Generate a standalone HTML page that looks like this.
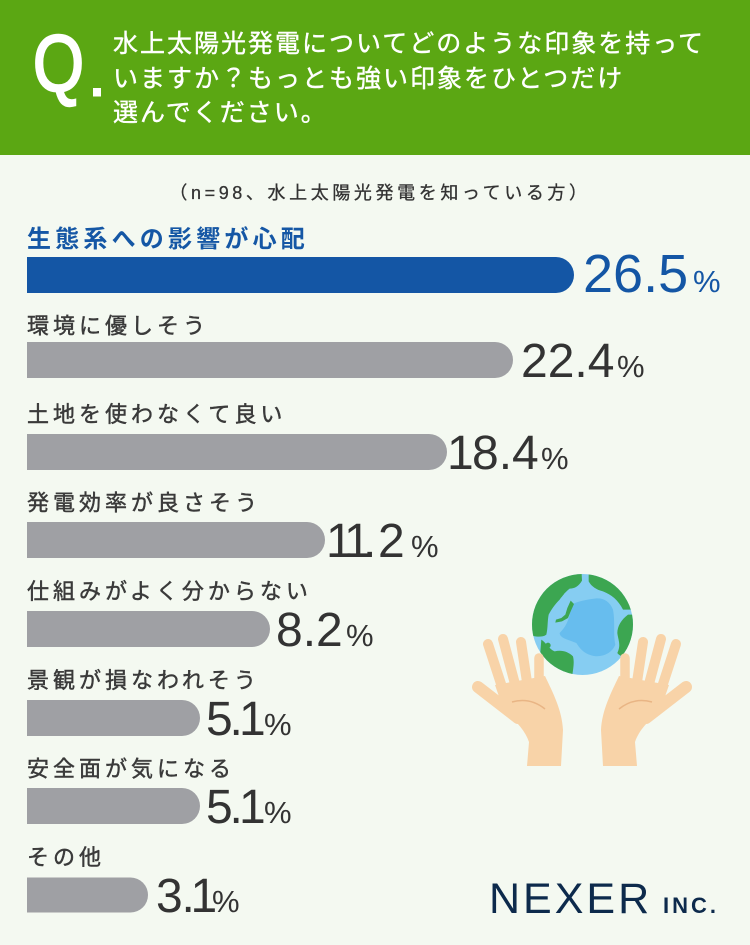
<!DOCTYPE html>
<html><head><meta charset="utf-8"><style>
html,body{margin:0;padding:0;background:#f4f9f1;}
svg{display:block;}
.jp{font-family:"Liberation Sans","Noto Sans CJK JP",sans-serif;}
.num{font-family:"Liberation Sans",sans-serif;}
</style></head><body>
<svg width="750" height="945" viewBox="0 0 750 945" xmlns="http://www.w3.org/2000/svg">
<rect x="0" y="0" width="750" height="945" fill="#f4f9f1"/>
<rect x="0" y="0" width="750" height="155" fill="#5ba713"/>
<!-- Q. -->
<text class="num" x="0" y="0" transform="translate(33,91) scale(0.82,1)" font-size="80" fill="#fff" stroke="#fff" stroke-width="2.4">Q</text>
<rect x="93" y="88" width="8" height="8.5" fill="#fff"/>
<g class="jp" font-size="25" fill="#fff" letter-spacing="2" stroke="#fff" stroke-width="0.4">
<text x="113" y="52">水上太陽光発電についてどのような印象を持って</text>
<text x="113" y="87">いますか？もっとも強い印象をひとつだけ</text>
<text x="113" y="121">選んでください。</text>
</g>
<text class="jp" x="380" y="199" font-size="18" fill="#333" stroke="#333" stroke-width="0.3" letter-spacing="3.6" text-anchor="middle">（n=98、水上太陽光発電を知っている方）</text>

<!-- labels -->
<text class="jp" x="27" y="247" font-size="24" font-weight="bold" fill="#1557a5" letter-spacing="4.2">生態系への影響が心配</text>
<g class="jp" font-size="22" fill="#3a3a3a" stroke="#3a3a3a" stroke-width="0.45" letter-spacing="4">
<text x="27" y="333.5">環境に優しそう</text>
<text x="27" y="422">土地を使わなくて良い</text>
<text x="27" y="510.5">発電効率が良さそう</text>
<text x="27" y="599">仕組みがよく分からない</text>
<text x="27" y="688">景観が損なわれそう</text>
<text x="27" y="776.5">安全面が気になる</text>
<text x="27" y="865">その他</text>
</g>

<!-- bars -->
<path d="M27,257 H556 A18,18 0 0 1 556,293 H27 Z" fill="#1456a5"/>
<g fill="#9fa0a4">
<path d="M27,342 H495 A18,18 0 0 1 495,378 H27 Z"/>
<path d="M27,434 H429 A18,18 0 0 1 429,470 H27 Z"/>
<path d="M27,522 H307 A18,18 0 0 1 307,558 H27 Z"/>
<path d="M27,611 H252 A18,18 0 0 1 252,647 H27 Z"/>
<path d="M27,700 H182 A18,18 0 0 1 182,736 H27 Z"/>
<path d="M27,788 H182 A18,18 0 0 1 182,824 H27 Z"/>
<path d="M27,877.5 H130.5 A17.5,17.5 0 0 1 130.5,912.5 H27 Z"/>
</g>

<!-- values -->
<g class="num">
<text x="583" y="292" font-size="54" fill="#1456a5">26.5</text>
<text x="693" y="292" font-size="31" fill="#1456a5">%</text>
<g fill="#333">
<text x="521" y="377" font-size="48">22.4</text>
<text x="617" y="377" font-size="31">%</text>
<text x="447 472 498.7 512" y="469" font-size="48">18.4</text>
<text x="541" y="469" font-size="31">%</text>
<text x="326 344 363 378" y="557" font-size="48">11.2</text>
<text x="411" y="557" font-size="31">%</text>
<text x="276" y="646" font-size="48">8.2</text>
<text x="346" y="646" font-size="31">%</text>
<text x="206 229.5 239" y="735" font-size="48">5.1</text>
<text x="264" y="735" font-size="31">%</text>
<text x="206 229.5 239" y="823" font-size="48">5.1</text>
<text x="264" y="823" font-size="31">%</text>
<text x="156 181.5 190.5" y="912" font-size="48">3.1</text>
<text x="212" y="912" font-size="31">%</text>
</g>
</g>

<!-- globe and hands -->
<defs>
<clipPath id="gc"><circle cx="163.5" cy="169.5" r="151.5"/></clipPath>
<g id="hand">
<g stroke="#f8d3a8" stroke-linecap="round" fill="none">
<line x1="43" y1="130" x2="28" y2="84" stroke-width="10"/>
<line x1="55" y1="124" x2="43" y2="79" stroke-width="10"/>
<line x1="67" y1="122" x2="61" y2="82" stroke-width="10"/>
<line x1="79" y1="126" x2="79" y2="98" stroke-width="9.5"/>
<line x1="58" y1="158" x2="18" y2="127" stroke-width="12"/>
</g>
<path d="M35,125 L85,116 C93,133 102,150 103,170 L101,206 L67,206 L69,182 C65,170 55,160 44,151 Z" fill="#f8d3a8"/>
<path d="M52,142 Q70,137 85,149" stroke="#e9b585" stroke-width="1.5" fill="none"/>
</g>
</defs>
<g transform="translate(460,560)">
<g transform="translate(68,8) scale(0.33333)">
<circle cx="163.5" cy="169.5" r="151.5" fill="#86cdf2"/>
<g clip-path="url(#gc)">
<path d="M130,110 C150,100 175,95 200,92 C225,88 245,100 255,125 C262,160 255,200 262,230 C250,260 215,270 190,262 C165,255 155,240 145,225 C120,215 95,210 95,195 C110,180 125,160 130,110 Z" fill="#67bdee"/>
<path d="M0,200 L0,0 L160,0 L162,38 C152,55 140,62 125,62 C115,70 105,80 95,95 C80,110 70,125 62,140 C58,160 60,180 55,200 C45,208 25,208 0,200 Z" fill="#3ca651"/>
<path d="M128,98 L138,108 L128,130 L120,150 L102,160 L82,164 L84,155 L100,150 L112,140 L118,120 Z" fill="#3ca651"/>
<path d="M95,72 L108,78 L100,88 L92,84 Z" fill="#3ca651"/>
<path d="M40,215 C55,225 65,245 80,250 C100,245 120,250 135,265 C140,285 135,305 130,340 L30,340 Z" fill="#3ca651"/>
<circle cx="60" cy="232" r="8" fill="#3ca651"/>
<path d="M182,0 L182,40 C190,55 205,65 225,70 C250,80 270,95 285,125 L340,125 L340,0 Z" fill="#3ca651"/>
<path d="M340,140 L300,140 C280,155 268,175 268,195 C270,215 280,230 268,255 C275,265 290,270 340,270 Z" fill="#3ca651"/>
</g>
</g>
<use href="#hand"/>
<use href="#hand" transform="translate(244,0) scale(-1,1)"/>
</g>

<!-- logo -->
<text class="num" x="489" y="913" font-size="43" fill="#0d2a4c" letter-spacing="3">NEXER</text>
<text class="num" x="663" y="913" font-size="22" font-weight="bold" fill="#0d2a4c" letter-spacing="3">INC.</text>
</svg>
</body></html>
